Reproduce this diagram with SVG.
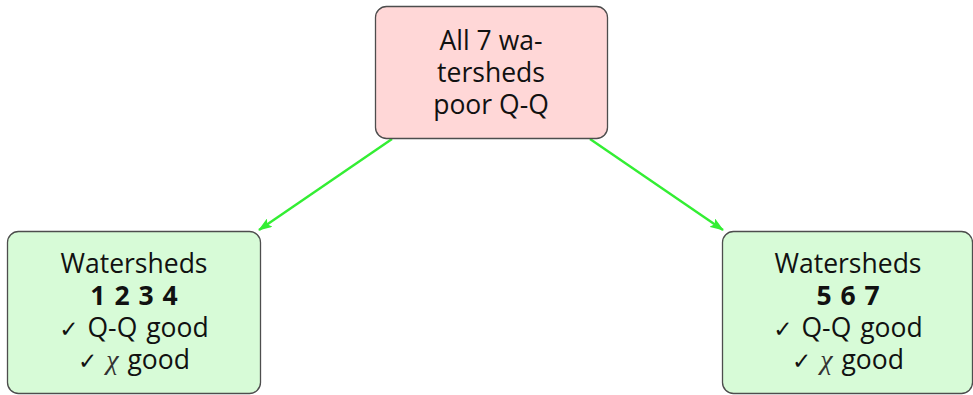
<svg xmlns="http://www.w3.org/2000/svg" width="973" height="395" viewBox="0 0 973 395">
<style>
.box{stroke:#4d4d4d;stroke-width:1.3}
.t{font-family:"Open Sans","Noto Sans",sans-serif;font-size:26.5px;fill:#111;text-anchor:middle}
.b{font-weight:bold;word-spacing:2px}
.c{font-family:"DejaVu Sans",sans-serif;font-size:23px}
.m{font-family:"Liberation Serif","DejaVu Serif",serif;font-style:italic;font-size:28px;fill:#333}
.edge{stroke:#33ee33;stroke-width:2.4;fill:none}
</style>
<defs>
<marker id="ah" markerWidth="14" markerHeight="10" refX="13" refY="5" orient="auto" markerUnits="userSpaceOnUse" viewBox="0 0 14 10">
<path d="M0,0 L14,5 L0,10 L3,5 Z" fill="#33ee33"/>
</marker>
</defs>
<g id="connectors">
<line class="edge" x1="392" y1="139" x2="259" y2="230" marker-end="url(#ah)"/>
<line class="edge" x1="590" y1="139" x2="723" y2="230" marker-end="url(#ah)"/>
</g>
<g id="top">
<rect class="box" x="375.5" y="6.5" width="232" height="132" rx="11" fill="#ffd7d7"/>
<text class="t" x="491" y="50">All 7 wa-</text>
<text class="t" x="491" y="82">tersheds</text>
<text class="t" x="491" y="114">poor Q-Q</text>
</g>
<g id="left">
<rect class="box" x="7.5" y="231.5" width="253" height="162" rx="11" fill="#d7fbd7"/>
<text class="t" x="134" y="273">Watersheds</text>
<text class="t b" x="134" y="305">1 2 3 4</text>
<text class="t" x="134" y="337" word-spacing="2"><tspan class="c">✓</tspan> Q-Q good</text>
<text class="t" x="134" y="369" word-spacing="2"><tspan class="c">✓</tspan> <tspan class="m">χ</tspan> good</text>
</g>
<g id="right">
<rect class="box" x="722.5" y="231.5" width="250" height="162" rx="11" fill="#d7fbd7"/>
<text class="t" x="848" y="273">Watersheds</text>
<text class="t b" x="848" y="305">5 6 7</text>
<text class="t" x="848" y="337" word-spacing="2"><tspan class="c">✓</tspan> Q-Q good</text>
<text class="t" x="848" y="369" word-spacing="2"><tspan class="c">✓</tspan> <tspan class="m">χ</tspan> good</text>
</g>
</svg>
